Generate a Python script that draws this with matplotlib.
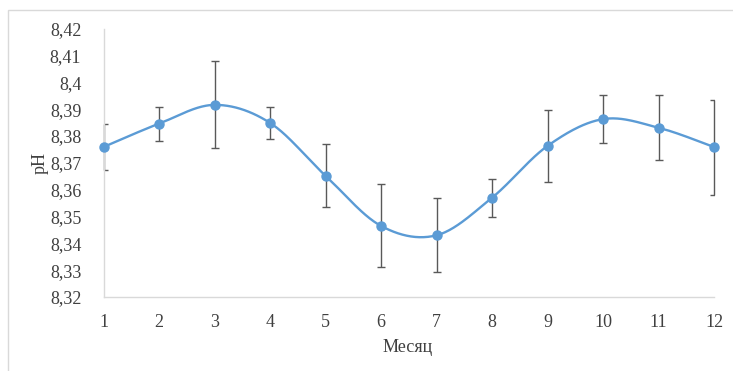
import numpy as np
import matplotlib
matplotlib.use("Agg")
import matplotlib.pyplot as plt
from matplotlib.patches import Rectangle

months = [1, 2, 3, 4, 5, 6, 7, 8, 9, 10, 11, 12]
ph = [8.3759, 8.3846, 8.3916, 8.3849, 8.3652, 8.3465, 8.3430, 8.3570, 8.3763, 8.3863, 8.3831, 8.3759]
err = [0.0085, 0.0064, 0.0162, 0.0060, 0.0118, 0.0155, 0.0138, 0.0070, 0.0134, 0.0089, 0.0122, 0.0177]
yticks = [8.32, 8.33, 8.34, 8.35, 8.36, 8.37, 8.38, 8.39, 8.40, 8.41, 8.42]
ytick_labels = ["8,32", "8,33", "8,34", "8,35", "8,36", "8,37", "8,38", "8,39", "8,4", "8,41", "8,42"]

plt.rcParams['font.family'] = ['Liberation Serif', 'DejaVu Serif']

def smooth(x, y, n=40):
    x = np.asarray(x, float); y = np.asarray(y, float)
    px = np.concatenate([[x[0]], x, [x[-1]]])
    py = np.concatenate([[y[0]], y, [y[-1]]])
    xs, ys = [], []
    t = np.linspace(0, 1, n)
    for i in range(1, len(px) - 2):
        p0 = np.array([px[i], py[i]])
        p3 = np.array([px[i + 1], py[i + 1]])
        p1 = p0 + (np.array([px[i + 1], py[i + 1]]) - np.array([px[i - 1], py[i - 1]])) / 6
        p2 = p3 - (np.array([px[i + 2], py[i + 2]]) - np.array([px[i], py[i]])) / 6
        b = ((1 - t) ** 3)[:, None] * p0 + (3 * (1 - t) ** 2 * t)[:, None] * p1 + \
            (3 * (1 - t) * t ** 2)[:, None] * p2 + (t ** 3)[:, None] * p3
        xs.extend(b[:, 0]); ys.extend(b[:, 1])
    return np.array(xs), np.array(ys)

W, H = 733, 371
fig = plt.figure(figsize=(W / 100, H / 100), dpi=100)
fig.patches.append(Rectangle((8 / W, -0.1), 1.2, 1.1 - 10 / H, transform=fig.transFigure,
                             fill=False, edgecolor='#d9d9d9', linewidth=1))
ax = fig.add_axes([103.5 / W, 1 - 297 / H, (714 - 103.5) / W, (297 - 28.7) / H])

sx, sy = smooth(months, ph)
ax.plot(sx, sy, color='#5b9bd5', linewidth=1.7, zorder=3, clip_on=False)
eb = ax.errorbar(months, ph, yerr=err, fmt='none', ecolor='#595959', elinewidth=1.0,
                 capsize=3, capthick=1.0, zorder=2)
for art in eb.lines[2]:
    art.set_clip_on(False)
ax.plot(months, ph, 'o', color='#5b9bd5', markersize=6.5, zorder=4, clip_on=False)

ax.set_xlim(1, 12)
ax.set_ylim(8.32, 8.42)
ax.set_xticks(months)
ax.set_xticklabels([str(m) for m in months])
ax.set_yticks(yticks)
ax.set_yticklabels(ytick_labels)
ax.tick_params(length=0, labelsize=13, colors='#404040')
ax.tick_params(axis='y', pad=16)
ax.tick_params(axis='x', pad=12)
for s in ['top', 'right']:
    ax.spines[s].set_visible(False)
for s in ['left', 'bottom']:
    ax.spines[s].set_color('#d9d9d9')
    ax.spines[s].set_linewidth(1)
ax.set_xlabel('Месяц', fontsize=13, color='#404040')
ax.set_ylabel('pH', fontsize=13, color='#404040')
ax.yaxis.set_label_coords((40 - 103.5) / (714 - 103.5), 0.5)
ax.xaxis.set_label_coords((408 - 103.5) / (714 - 103.5), -(347 - 297) / (297 - 28.7))
ax.xaxis.label.set_va('center')
ax.yaxis.label.set_va('center')

fig.savefig('out.png', dpi=100)
